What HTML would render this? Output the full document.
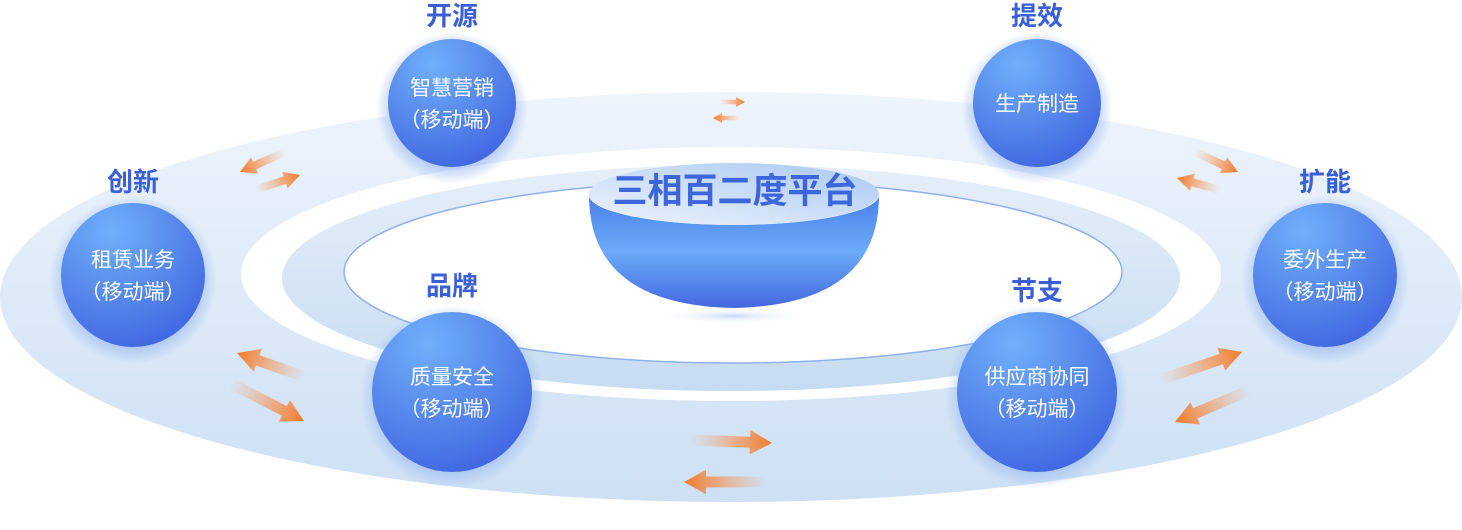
<!DOCTYPE html>
<html><head><meta charset="utf-8"><style>
html,body{margin:0;padding:0;background:#fff;width:1462px;height:530px;overflow:hidden}
svg{display:block}
text{font-family:"Liberation Sans","Noto Sans CJK SC",sans-serif}
</style></head><body>
<svg id="s" width="1462" height="530" viewBox="0 0 1462 530" xmlns="http://www.w3.org/2000/svg">
<defs>
<linearGradient id="outer" x1="0" y1="0" x2="0" y2="1"><stop offset="0" stop-color="#eef4fc"/><stop offset="1" stop-color="#cde0f4"/></linearGradient>
<linearGradient id="mid" x1="0" y1="0" x2="0" y2="1"><stop offset="0" stop-color="#e6eff9"/><stop offset="1" stop-color="#c6dcf2"/></linearGradient>
<linearGradient id="bowl" x1="0" y1="0" x2="0" y2="1"><stop offset="0" stop-color="#4a7fe8"/><stop offset="0.5" stop-color="#6aabf8"/><stop offset="1" stop-color="#4468e0"/></linearGradient>
<linearGradient id="lid" x1="0" y1="1" x2="1" y2="0"><stop offset="0" stop-color="#eef4fd"/><stop offset="1" stop-color="#a9c8f3"/></linearGradient>
<radialGradient id="ball" cx="0.35" cy="0.2" r="0.9"><stop offset="0" stop-color="#70b0fa"/><stop offset="1" stop-color="#3f62df"/></radialGradient>
<radialGradient id="glow" cx="0.5" cy="0.5" r="0.5"><stop offset="0.8" stop-color="#7fa6ee" stop-opacity="0.45"/><stop offset="1" stop-color="#7fa6ee" stop-opacity="0"/></radialGradient>
<radialGradient id="sh" cx="0.5" cy="0.5" r="0.5"><stop offset="0" stop-color="#c9d8f6"/><stop offset="1" stop-color="#fff" stop-opacity="0"/></radialGradient>
</defs>
<ellipse cx="731" cy="297" rx="731" ry="205" fill="url(#outer)"/>
<ellipse cx="731" cy="274" rx="490" ry="127" fill="#fff"/>
<ellipse cx="731" cy="278" rx="449" ry="113" fill="url(#mid)"/>
<ellipse cx="733" cy="272" rx="389" ry="91" fill="#fff" stroke="#8fb0ee" stroke-width="1.5"/>
<ellipse cx="733" cy="316" rx="75" ry="8" fill="url(#sh)"/>
<path d="M589 195 A145 30 0 0 0 879 195 Q879 305 734 308 Q589 305 589 195Z" fill="url(#bowl)"/>
<ellipse cx="734" cy="194" rx="145" ry="31" fill="url(#lid)"/>
<text x="735" y="203" text-anchor="middle" font-size="35" font-weight="bold" fill="#3e66dc">三相百二度平台</text>
<g id="balls"></g>
<g id="arrows"></g>
</svg>
<script>
var ns="http://www.w3.org/2000/svg",s=document.getElementById('s');
function el(t,a,p,txt){var e=document.createElementNS(ns,t);for(var k in a)e.setAttribute(k,a[k]);if(txt)e.textContent=txt;(p||s).appendChild(e);return e}
var balls=[[452,103,64,"开源",16,["智慧营销","（移动端）"]],[1037,103,64,"提效",16,["生产制造"]],[133,275,72,"创新",182,["租赁业务","（移动端）"]],[1325,275,72,"扩能",182,["委外生产","（移动端）"]],[452,392,80,"品牌",286,["质量安全","（移动端）"]],[1037,392,80,"节支",291,["供应商协同","（移动端）"]]];
var g=document.getElementById('balls');
balls.forEach(function(b){
 var r=b[2];
 el('circle',{cx:b[0],cy:b[1]+5,r:r+12,fill:'url(#glow)'},g);
 el('circle',{cx:b[0],cy:b[1],r:r,fill:'url(#ball)'},g);
 el('text',{x:b[0],y:b[4]+9,'text-anchor':'middle','font-size':26,'font-weight':'bold',fill:'#3a5fd8'},g,b[3]);
 var L=b[5];
 L.forEach(function(t,i){var y=b[1]+(L.length==1?8:(i==0?-8:24));el('text',{x:b[0],y:y,'text-anchor':'middle','font-size':21,fill:'#fff'},g,t)});
});
var ar=[[285,152,240,172,0.8],[255,190,300,175,0.8],[720,102,745,102,0.45],[740,118,713,118,0.45],[1195,152,1238,172,0.8],[1220,190,1177,178,0.8],[305,377,237,353,1.1],[230,383,304,421,1.1],[690,440,772,443,1.1],[768,482,684,482,1.1],[1160,380,1242,352,1.1],[1250,390,1175,422,1.1]];
var a=document.getElementById('arrows');
ar.forEach(function(r,i){
 var x1=r[0],y1=r[1],x2=r[2],y2=r[3],k=r[4],dx=x2-x1,dy=y2-y1,len=Math.hypot(dx,dy),ux=dx/len,uy=dy/len,px=-uy,py=ux;
 var id='ag'+i;var lg=el('linearGradient',{id:id,gradientUnits:'userSpaceOnUse',x1:x1,y1:y1,x2:x2,y2:y2},s.querySelector('defs'));
 el('stop',{offset:0,'stop-color':'#f5a36a','stop-opacity':0},lg);el('stop',{offset:0.6,'stop-color':'#f59050','stop-opacity':0.7},lg);el('stop',{offset:1,'stop-color':'#f07a28'},lg);
 var w=5*k,hw=11*k,hl=20*k,bx=x2-ux*hl,by=y2-uy*hl;
 var pts=[[x1+px*w,y1+py*w],[bx+px*w,by+py*w],[bx+px*hw,by+py*hw],[x2,y2],[bx-px*hw,by-py*hw],[bx-px*w,by-py*w],[x1-px*w,y1-py*w]];
 el('polygon',{points:pts.map(function(p){return p[0].toFixed(1)+','+p[1].toFixed(1)}).join(' '),fill:'url(#'+id+')'},a);
});
</script>
</body></html>
